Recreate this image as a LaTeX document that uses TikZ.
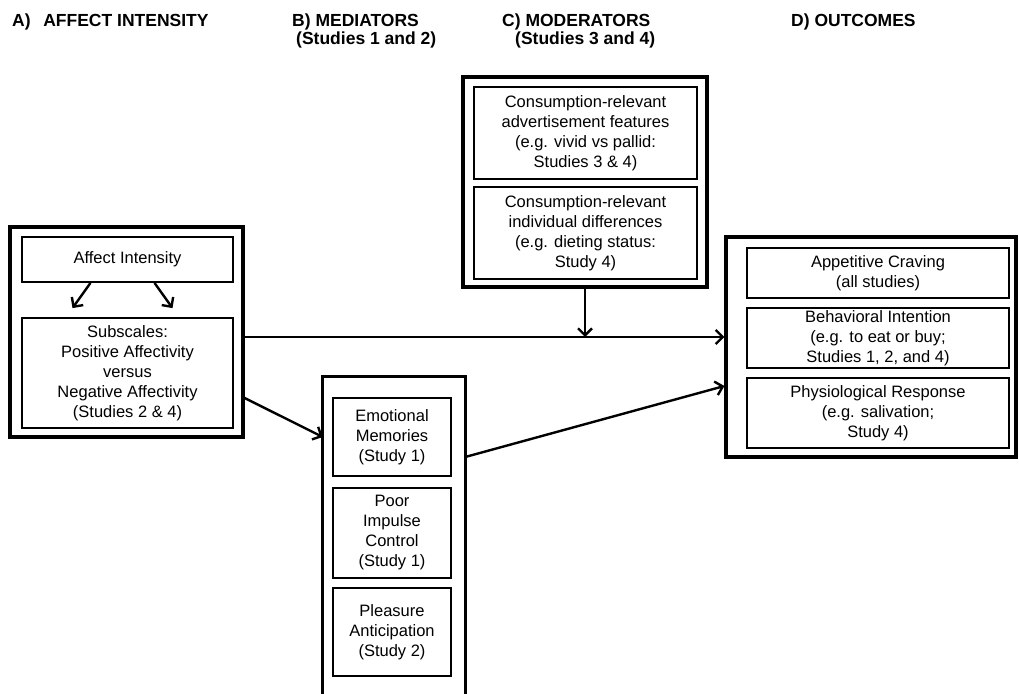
\documentclass[tikz,border=0pt]{standalone}
\usepackage{fontspec}
\setmainfont{Liberation Sans}
\usetikzlibrary{arrows.meta}
\begin{document}
\begin{tikzpicture}[x=1pt,y=-1pt,
  inner/.style={draw, line width=1.8pt, align=center, inner sep=0pt,
    font=\fontsize{16.5}{20}\selectfont},
  head/.style={anchor=base west, inner sep=0pt, align=left,
    font=\fontsize{17.5}{15}\selectfont\bfseries},
  arr/.style={line width=2.4pt, -{Straight Barb[length=7pt,width=14pt,line width=2.4pt]}},
  bigbox/.style={draw, line width=3.2pt, inner sep=0pt}
]
\useasboundingbox (0,0) rectangle (1019,693);
\fill[white] (0,0) rectangle (1019,693);

% headers
\node[head] (hA) at (12,27) {A)\ \ \,AFFECT INTENSITY};
\node[head] (hB) at (292,27) {B) MEDIATORS};
\node[head] (hB2) at (296,45) {(Studies 1 and 2)};
\node[head] (hC) at (502,27) {C) MODERATORS};
\node[head] (hC2) at (515,45) {(Studies 3 and 4)};
\node[head] (hD) at (791,27) {D) OUTCOMES};

% A) affect intensity
\node[bigbox, minimum width=233pt, minimum height=210pt] (A) at (126.5,332) {};
\node[inner, minimum width=211pt, minimum height=45pt] (AI) at (127.5,259.5) {Affect Intensity};
\node[inner, minimum width=211pt, minimum height=110pt] (Sub) at (127.5,373)
  {Subscales:\\Positive Affectivity\\versus\\Negative Affectivity\\(Studies 2 \& 4)};
\draw[arr] ([xshift=-37pt]AI.south) -- ([xshift=-55pt,yshift=9pt]Sub.north);
\draw[arr] ([xshift=27pt]AI.south) -- ([xshift=45pt,yshift=9pt]Sub.north);

% B) mediators (box open at the bottom of the picture)
\node[minimum width=142pt, minimum height=343pt, inner sep=0pt] (Med) at (394,548.5) {};
\draw[line width=3.2pt] (Med.south west) |- (Med.north east) -- (Med.south east);
\node[inner, minimum width=118pt, minimum height=78pt] (EM) at (392,437)
  {Emotional\\Memories\\(Study 1)};
\node[inner, minimum width=118pt, minimum height=90pt] (PIC) at (392,533)
  {Poor\\Impulse\\Control\\(Study 1)};
\node[inner, minimum width=118pt, minimum height=88pt] (PA) at (392,632)
  {Pleasure\\Anticipation\\(Study 2)};

% C) moderators
\node[bigbox, minimum width=244pt, minimum height=210pt] (Mod) at (585,182) {};
\node[inner, minimum width=223pt, minimum height=92pt] (M1) at (585.5,133)
  {Consumption-relevant\\advertisement features\\(e.g. vivid vs pallid:\\Studies 3 \& 4)};
\node[inner, minimum width=223pt, minimum height=92pt] (M2) at (585.5,233)
  {Consumption-relevant\\individual differences\\(e.g. dieting status:\\Study 4)};

% D) outcomes
\node[bigbox, minimum width=290pt, minimum height=220pt] (Out) at (871,347) {};
\node[inner, minimum width=262pt, minimum height=50pt] (AC) at (878,273)
  {Appetitive Craving\\(all studies)};
\node[inner, minimum width=262pt, minimum height=60pt] (BI) at (878,338)
  {Behavioral Intention\\(e.g. to eat or buy;\\Studies 1, 2, and 4)};
\node[inner, minimum width=262pt, minimum height=70pt] (PR) at (878,413)
  {Physiological Response\\(e.g. salivation;\\Study 4)};

% connectors
\coordinate (h1) at ([yshift=-5pt]A.east);
\draw[arr] (h1) -- (h1 -| Out.west);
\draw[arr] (Mod.south) -- (Mod.south |- h1);
\draw[arr] ([yshift=-66pt]A.east) -- (Med.west |- EM.center);
\coordinate (m1) at ([yshift=-20pt]EM.center -| Med.east);
\draw[arr] (m1) -- ([yshift=-39pt]Out.west);
\end{tikzpicture}
\end{document}
